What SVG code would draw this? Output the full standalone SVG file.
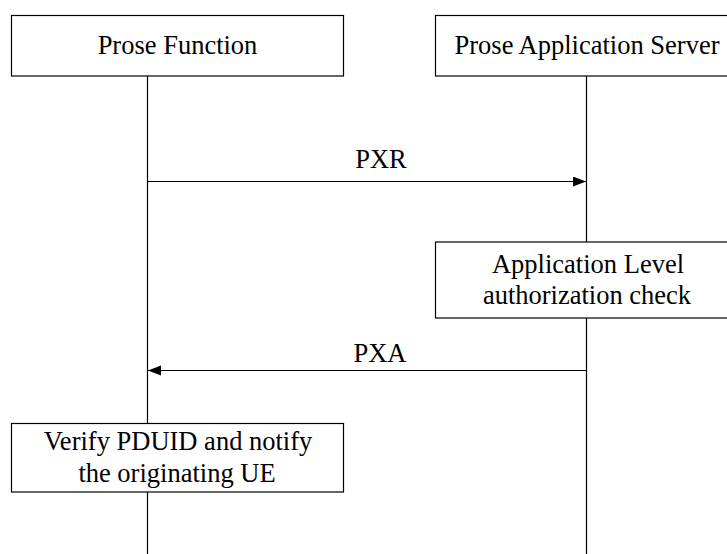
<svg xmlns="http://www.w3.org/2000/svg" width="727" height="554" viewBox="0 0 727 554">
  <style>
    .box { fill: #ffffff; stroke: #000000; stroke-width: 1.2; }
    .life { stroke: #000000; stroke-width: 1.2; fill: none; }
    .msg { stroke: #000000; stroke-width: 1.2; fill: none; }
    .t { font-family: 'Liberation Serif', 'DejaVu Serif', serif; font-size: 26.5px; fill: #000000; text-anchor: middle; }
  </style>
  <defs>
    <marker id="arrow" markerUnits="userSpaceOnUse" markerWidth="14" markerHeight="12" refX="13" refY="5" orient="auto">
      <path d="M0,0 L13,5 L0,10 Z" fill="#000000"/>
    </marker>
  </defs>
  <rect width="727" height="554" fill="#ffffff"/>
  <g id="lifelines">
    <line class="life" x1="147.5" y1="76" x2="147.5" y2="554"/>
    <line class="life" x1="586.5" y1="76" x2="586.5" y2="554"/>
  </g>
  <g id="connectors">
    <line class="msg" x1="147.5" y1="181.5" x2="586" y2="181.5" marker-end="url(#arrow)"/>
    <text class="t" font-family="Liberation Serif, serif" x="381" y="168.3">PXR</text>
    <line class="msg" x1="586.5" y1="370.5" x2="148" y2="370.5" marker-end="url(#arrow)"/>
    <text class="t" font-family="Liberation Serif, serif" x="380" y="362">PXA</text>
  </g>
  <g id="prose-function">
    <rect class="box" x="11.5" y="15.5" width="332" height="60.5"/>
    <text class="t" font-family="Liberation Serif, serif" x="177.5" y="53.7">Prose Function</text>
  </g>
  <g id="prose-application-server">
    <rect class="box" x="435.5" y="15.5" width="332" height="60.5"/>
    <text class="t" font-family="Liberation Serif, serif" x="587" y="53.7">Prose Application Server</text>
  </g>
  <g id="app-level-check">
    <rect class="box" x="435.5" y="242" width="332" height="76"/>
    <text class="t" font-family="Liberation Serif, serif" x="588" y="272.7">Application Level</text>
    <text class="t" font-family="Liberation Serif, serif" x="587" y="304">authorization check</text>
  </g>
  <g id="verify-pduid">
    <rect class="box" x="11.5" y="423.5" width="332" height="68.5"/>
    <text class="t" font-family="Liberation Serif, serif" x="178" y="450">Verify PDUID and notify</text>
    <text class="t" font-family="Liberation Serif, serif" x="177" y="481.5">the originating UE</text>
  </g>
</svg>
